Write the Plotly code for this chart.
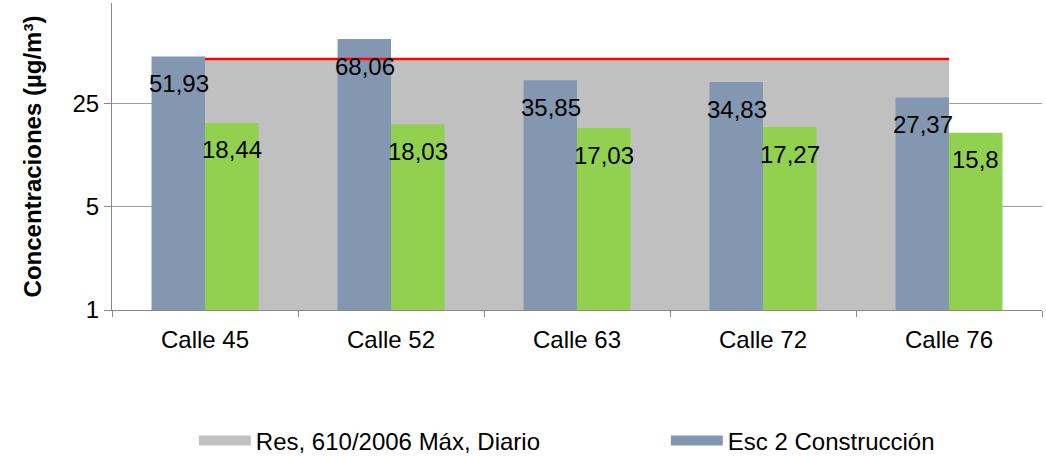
import math

import plotly.graph_objects as go

calles = ['Calle 45', 'Calle 52', 'Calle 63', 'Calle 72', 'Calle 76']
esc2_construccion = [51.93, 68.06, 35.85, 34.83, 27.37]
esc2_otro = [18.44, 18.03, 17.03, 17.27, 15.8]
limite_diario = [50, 50, 50, 50, 50]
base = [1, 1, 1, 1, 1]
y_ticks = [1, 5, 25]

FONT = 'Liberation Sans, Arial, sans-serif'
AZUL = '#8497b0'
VERDE = '#92d050'
GRIS = '#c0c0c0'
SIZE = 24


def etiqueta(v):
    return f'{v:g}'.replace('.', ',')


fig = go.Figure()

# área gris del límite (subplot base, debajo de las barras)
fig.add_trace(go.Scatter(
    x=calles, y=base, mode='lines', line=dict(width=0),
    showlegend=False, hoverinfo='skip'
))
fig.add_trace(go.Scatter(
    x=calles, y=limite_diario, mode='lines', line=dict(width=0),
    fill='tonexty', fillcolor=GRIS, showlegend=False
))

# barras en un subplot superpuesto
fig.add_trace(go.Bar(
    x=calles, y=esc2_construccion, marker=dict(color=AZUL, line=dict(width=0)),
    name='Esc 2 Construcción', showlegend=False, xaxis='x2', yaxis='y2'
))
fig.add_trace(go.Bar(
    x=calles, y=esc2_otro, marker=dict(color=VERDE, line=dict(width=0)),
    name='Esc 2', showlegend=False, xaxis='x2', yaxis='y2'
))
fig.add_trace(go.Scatter(
    x=calles, y=limite_diario, mode='lines', line=dict(color='#ff0000', width=2.5),
    showlegend=False, xaxis='x2', yaxis='y2'
))

# entradas de la leyenda
fig.add_trace(go.Scatter(
    x=[None], y=[None], mode='lines', line=dict(color=GRIS, width=12),
    name='Res, 610/2006 Máx, Diario', xaxis='x2', yaxis='y2', legend='legend'
))
fig.add_trace(go.Scatter(
    x=[None], y=[None], mode='lines', line=dict(color=AZUL, width=12),
    name='Esc 2 Construcción', xaxis='x2', yaxis='y2', legend='legend2'
))

anotaciones = []
for serie, dx in ((esc2_construccion, -26.5), (esc2_otro, 26.5)):
    for c, v in zip(calles, serie):
        anotaciones.append(dict(
            x=c, y=math.log10(v), xref='x2', yref='y2', text=etiqueta(v),
            showarrow=False, xshift=dx, yshift=-27, yanchor='middle',
            font=dict(size=SIZE, color='black', family=FONT)
        ))

leyenda = dict(
    orientation='h', xanchor='left', yref='container', y=0.033, yanchor='middle',
    itemwidth=52, font=dict(size=SIZE, family=FONT), bgcolor='rgba(0,0,0,0)'
)

y_range = [0, 2.077]
fig.update_layout(
    width=1046, height=456,
    margin=dict(l=112, r=4, t=3, b=146),
    paper_bgcolor='white', plot_bgcolor='white',
    font=dict(family=FONT, size=SIZE, color='black'),
    barmode='group', bargap=0.425, bargroupgap=0,
    annotations=anotaciones,
    legend=dict(leyenda, x=0.088),
    legend2=dict(leyenda, x=0.5955),
    xaxis=dict(
        type='category', range=[-0.5, 4.5], showgrid=False, automargin=False,
        showline=True, linecolor='#888888', linewidth=1,
        ticks='outside', tickson='boundaries', ticklen=6, tickcolor='#888888',
        ticklabelstandoff=8
    ),
    yaxis=dict(
        type='log', range=y_range, tickvals=y_ticks, automargin=False,
        ticktext=[str(t) for t in y_ticks],
        showgrid=True, gridcolor='#a0a0a0', gridwidth=1,
        showline=True, linecolor='#888888', linewidth=1,
        ticks='outside', ticklen=7, tickcolor='#888888',
        title=dict(text='<b>Concentraciones (µg/m³)</b>', standoff=24,
                   font=dict(size=SIZE, family=FONT))
    ),
    xaxis2=dict(type='category', range=[-0.5, 4.5], overlaying='x', visible=False),
    yaxis2=dict(type='log', range=y_range, overlaying='y', visible=False),
)

fig.write_html('out.html', config={'displayModeBar': False},
               post_script="document.body.style.margin = '0';")
